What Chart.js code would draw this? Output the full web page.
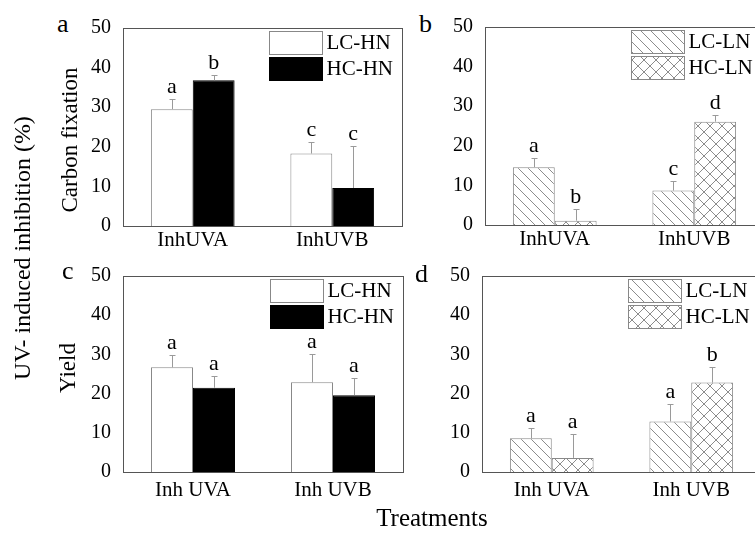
<!DOCTYPE html>
<html>
<head>
<meta charset="utf-8">
<script src="https://cdn.jsdelivr.net/npm/chart.js@4.4.1/dist/chart.umd.min.js"></script>
<style>
body { margin: 0; background: #fff; }
#fig { position: relative; width: 755px; height: 535px; overflow: hidden; font-family: "Liberation Serif", "Times New Roman", serif; color: #000; }
#fig canvas { position: absolute; }
.t { position: absolute; line-height: 1; white-space: nowrap; }
.r { transform: translate(-50%, -50%) rotate(-90deg); }
.c { transform: translate(-50%, -50%); }
</style>
</head>
<body>
<div id="fig">
  <canvas id="ca" width="330" height="260" style="left:80px;top:0px"></canvas>
  <canvas id="cb" width="330" height="260" style="left:440px;top:0px"></canvas>
  <canvas id="cc" width="330" height="260" style="left:80px;top:248px"></canvas>
  <canvas id="cd" width="330" height="260" style="left:440px;top:248px"></canvas>

  <div class="t" style="left:57px;top:11px;font-size:26px">a</div>
  <div class="t" style="left:419px;top:11px;font-size:26px">b</div>
  <div class="t" style="left:62px;top:258px;font-size:26px">c</div>
  <div class="t" style="left:415px;top:261px;font-size:26px">d</div>

  <div class="t r" style="left:69px;top:140px;font-size:23px">Carbon fixation</div>
  <div class="t r" style="left:67px;top:368px;font-size:23px">Yield</div>
  <div class="t r" style="left:22px;top:248px;font-size:24px">UV- induced inhibition (%)</div>
  <div class="t c" style="left:432px;top:517px;font-size:25px">Treatments</div>
</div>
<script>
// categories
const treatCarbon = ['InhUVA', 'InhUVB'];
const treatYield = ['Inh UVA', 'Inh UVB'];

// panel a - carbon fixation, high nitrate
const lcHnCarbon = [29.5, 18.3];
const lcHnCarbonErr = [2.5, 2.8];
const lcHnCarbonSig = ['a', 'c'];
const hcHnCarbon = [36.8, 9.6];
const hcHnCarbonErr = [1.3, 10.6];
const hcHnCarbonSig = ['b', 'c'];

// panel b - carbon fixation, low nitrate
const lcLnCarbon = [14.6, 8.7];
const lcLnCarbonErr = [2.4, 2.5];
const lcLnCarbonSig = ['a', 'c'];
const hcLnCarbon = [1.1, 26.1];
const hcLnCarbonErr = [2.9, 1.6];
const hcLnCarbonSig = ['b', 'd'];

// panel c - yield, high nitrate
const lcHnYield = [26.7, 22.9];
const lcHnYieldErr = [3.2, 7.3];
const lcHnYieldSig = ['a', 'a'];
const hcHnYield = [21.5, 19.6];
const hcHnYieldErr = [3.1, 4.3];
const hcHnYieldSig = ['a', 'a'];

// panel d - yield, low nitrate
const lcLnYield = [8.6, 12.9];
const lcLnYieldErr = [2.7, 4.4];
const lcLnYieldSig = ['a', 'a'];
const hcLnYield = [3.6, 22.8];
const hcLnYieldErr = [6.1, 4.1];
const hcLnYieldSig = ['a', 'b'];

const yTicks = { min: 0, max: 50, step: 10 };
const serif = '"Liberation Serif", "Times New Roman", serif';

function hatch(cross, size) {
    const c = document.createElement('canvas');
    c.width = size; c.height = size;
    const g = c.getContext('2d');
    g.fillStyle = '#fff';
    g.fillRect(0, 0, size, size);
    g.strokeStyle = '#8c8c8c';
    g.lineWidth = 1;
    g.beginPath();
    for (let k = -size; k <= size; k += size) {
        g.moveTo(k, 0); g.lineTo(k + size, size);
        if (cross) { g.moveTo(k + size, 0); g.lineTo(k, size); }
    }
    g.stroke();
    return g.createPattern(c, 'repeat');
}
const diag = hatch(false, 10);
const cross = hatch(true, 12);

// box around the plot area
const plotFrame = {
    id: 'plotFrame',
    afterDatasetsDraw(chart) {
        const { ctx, chartArea: a } = chart;
        ctx.save();
        ctx.strokeStyle = '#555';
        ctx.lineWidth = 1;
        ctx.strokeRect(Math.round(a.left) + 0.5, Math.round(a.top) + 0.5,
            Math.round(a.right - a.left), Math.round(a.bottom - a.top));
        ctx.restore();
    }
};

// error bars + significance letters
const errorBars = {
    id: 'errorBars',
    afterDatasetsDraw(chart) {
        const { ctx } = chart;
        const ys = chart.scales.y;
        ctx.save();
        chart.data.datasets.forEach((ds, i) => {
            chart.getDatasetMeta(i).data.forEach((bar, j) => {
                const x = Math.round(bar.x) + 0.5;
                const top = ys.getPixelForValue(ds.data[j] + ds.errors[j]);
                ctx.strokeStyle = '#9a9a9a';
                ctx.lineWidth = 1;
                ctx.beginPath();
                ctx.moveTo(x, bar.y);
                ctx.lineTo(x, Math.round(top) + 0.5);
                ctx.moveTo(x - 3, Math.round(top) + 0.5);
                ctx.lineTo(x + 3, Math.round(top) + 0.5);
                ctx.stroke();
                ctx.fillStyle = '#000';
                ctx.font = `22px ${serif}`;
                ctx.textAlign = 'center';
                ctx.textBaseline = 'alphabetic';
                ctx.fillText(ds.letters[j], bar.x, top - 6);
            });
        });
        ctx.restore();
    }
};

// legend boxes in the top right corner of the plot
const boxLegend = {
    id: 'boxLegend',
    afterDraw(chart) {
        const { ctx, chartArea: a } = chart;
        ctx.save();
        chart.data.datasets.forEach((ds, i) => {
            const x = Math.round(a.right - 133) + 0.5;
            const y = Math.round(a.top + 3 + i * 25.5) + 0.5;
            ctx.fillStyle = ds.backgroundColor;
            ctx.fillRect(x, y, 53, 23);
            ctx.strokeStyle = ds.borderColor;
            ctx.lineWidth = 1;
            ctx.strokeRect(x, y, 53, 23);
            ctx.fillStyle = '#000';
            ctx.font = `21px ${serif}`;
            ctx.textAlign = 'left';
            ctx.textBaseline = 'middle';
            ctx.fillText(ds.label, x + 57, y + 12);
        });
        ctx.restore();
    }
};

function panel(id, cats, sets, b) {
    return new Chart(document.getElementById(id), {
        type: 'bar',
        data: { labels: cats, datasets: sets },
        options: {
            responsive: false,
            animation: false,
            devicePixelRatio: 1,
            layout: { padding: { top: b.top, right: b.right, left: 0, bottom: 0 } },
            datasets: { bar: { categoryPercentage: 0.6, barPercentage: 1.0, borderWidth: 1 } },
            plugins: { legend: { display: false }, tooltip: { enabled: false } },
            scales: {
                x: {
                    grid: { display: false },
                    border: { display: false },
                    ticks: { color: '#000', font: { family: serif, size: 21 }, padding: b.xpad, maxRotation: 0 },
                    afterFit: s => { s.height = b.xh; }
                },
                y: {
                    min: yTicks.min, max: yTicks.max,
                    grid: { display: false },
                    border: { display: false },
                    ticks: { stepSize: yTicks.step, color: '#000', font: { family: serif, size: 20 }, padding: 4 },
                    afterFit: s => { s.width = b.yw; }
                }
            }
        },
        plugins: [plotFrame, errorBars, boxLegend]
    });
}

panel('ca', treatCarbon, [
    { label: 'LC-HN', data: lcHnCarbon, errors: lcHnCarbonErr, letters: lcHnCarbonSig, backgroundColor: '#fff', borderColor: '#888' },
    { label: 'HC-HN', data: hcHnCarbon, errors: hcHnCarbonErr, letters: hcHnCarbonSig, backgroundColor: '#000', borderColor: '#000' }
], { yw: 43, xh: 34, top: 28, right: 8, xpad: -6 });

panel('cb', treatCarbon, [
    { label: 'LC-LN', data: lcLnCarbon, errors: lcLnCarbonErr, letters: lcLnCarbonSig, backgroundColor: diag, borderColor: '#888' },
    { label: 'HC-LN', data: hcLnCarbon, errors: hcLnCarbonErr, letters: hcLnCarbonSig, backgroundColor: cross, borderColor: '#888' }
], { yw: 45, xh: 35, top: 27, right: 6, xpad: -6 });

panel('cc', treatYield, [
    { label: 'LC-HN', data: lcHnYield, errors: lcHnYieldErr, letters: lcHnYieldSig, backgroundColor: '#fff', borderColor: '#888' },
    { label: 'HC-HN', data: hcHnYield, errors: hcHnYieldErr, letters: hcHnYieldSig, backgroundColor: '#000', borderColor: '#000' }
], { yw: 43, xh: 36, top: 28, right: 7, xpad: -2 });

panel('cd', treatYield, [
    { label: 'LC-LN', data: lcLnYield, errors: lcLnYieldErr, letters: lcLnYieldSig, backgroundColor: diag, borderColor: '#888' },
    { label: 'HC-LN', data: hcLnYield, errors: hcLnYieldErr, letters: hcLnYieldSig, backgroundColor: cross, borderColor: '#888' }
], { yw: 42, xh: 36, top: 28, right: 9, xpad: -2 });
</script>
</body>
</html>
